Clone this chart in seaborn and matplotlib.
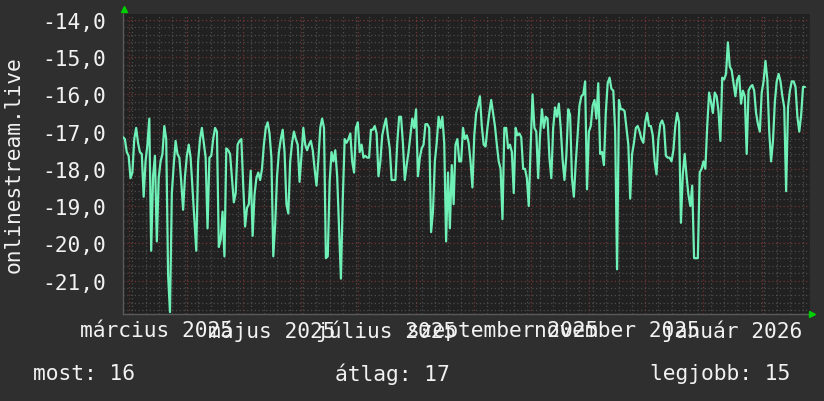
import numpy as np
import pandas as pd
import matplotlib
matplotlib.use("Agg")
import matplotlib.pyplot as plt
import matplotlib.dates as mdates
from matplotlib.ticker import MultipleLocator, FuncFormatter, NullFormatter
import seaborn as sns

# ---- data (daily values) ----
rank_p1 = [-17.15, -17.2, -17.55, -17.65, -18.25, -18.1, -17.2, -16.9, -17.3, -17.55, -17.6, -18.75, -17.8,
           -17.35, -16.65, -20.2, -18.2, -17.65, -19.95, -18.25, -17.8, -17.6, -16.85, -17.2, -20.85,
           -21.85, -18.65, -17.9, -17.25, -17.6, -17.7, -18.35, -19.1, -18.2, -17.65, -17.35, -17.7,
           -18.55, -19.35, -20.2, -17.8, -17.2, -16.9, -17.3, -17.7, -19.6, -17.7, -17.65, -17.2,
           -16.9, -17.0, -20.1]
rank_p2 = [-19.9, -19.15, -20.35, -17.45, -17.5, -17.6, -18.25, -18.9, -18.65, -17.35, -17.25, -17.2, -18.45,
           -19.55, -19.05, -18.95, -18.05, -19.8, -18.7, -18.25, -18.1, -18.3, -18.0, -17.35, -16.9,
           -16.75, -17.05, -17.7, -20.35, -19.5, -18.2, -17.55, -17.2, -16.95, -17.55, -18.95, -19.2,
           -17.8, -17.3, -17.0, -17.2, -17.35, -18.35, -17.65, -16.9, -17.35, -17.5, -17.35, -17.25,
           -17.5, -18.0, -18.45, -17.75]
rank_p3 = [-16.9, -16.65, -16.9, -20.4, -20.35, -18.35, -17.55, -17.8, -17.5, -18.2, -19.6, -20.95,
           -18.8, -17.2, -17.3, -17.2, -17.05, -17.8, -18.1, -16.9, -16.75, -17.55, -17.35, -17.7,
           -17.65, -17.7, -17.7, -16.95, -16.95, -16.85, -17.05, -18.2, -17.8, -17.1, -16.85, -16.65,
           -17.1, -17.45, -18.3, -18.3, -18.3, -17.3, -16.6, -16.6, -17.3, -18.3, -17.9, -17.55,
           -17.1, -16.65, -16.9, -16.4]
rank_p4 = [-18.2, -17.7, -17.45, -17.35, -16.8, -16.8, -16.9, -19.7, -19.15, -17.8, -17.3, -16.6,
           -16.9, -16.6, -17.3, -19.95, -18.1, -19.6, -17.9, -18.95, -17.35, -17.2, -17.8, -17.8,
           -16.9, -17.2, -17.1, -17.3, -17.8, -18.5, -17.1, -16.5, -16.3, -16.05, -16.85, -17.35,
           -17.4, -16.9, -16.5, -16.15, -16.5, -16.85, -17.35, -17.8, -18.0, -19.35, -16.9, -16.9,
           -17.45, -17.35, -17.55, -18.65]
rank_p5 = [-16.9, -17.1, -17.05, -17.15, -18.0, -18.0, -18.25, -19.0, -17.4, -16.0, -16.9, -17.0,
           -18.25, -17.1, -16.4, -16.9, -16.6, -16.65, -17.7, -18.25, -16.9, -16.35, -16.6, -16.25,
           -16.9, -17.75, -18.3, -17.65, -16.4, -16.55, -18.25, -18.75, -17.85, -17.1, -16.3, -16.05,
           -16.0, -15.65, -18.55, -17.0, -16.85, -16.3, -16.15, -16.65, -15.7, -17.6, -17.55, -17.9,
           -16.5, -15.7, -15.55, -15.85]
rank_p6 = [-15.9, -17.0, -20.7, -16.15, -16.4, -16.4, -16.45, -16.9, -17.35, -18.8, -17.6, -17.3,
           -16.9, -16.85, -17.0, -17.2, -17.3, -16.75, -16.5, -16.85, -16.85, -17.1, -17.8, -18.15,
           -17.2, -16.8, -16.7, -16.85, -17.65, -17.7, -17.7, -17.8, -17.5, -16.85, -16.5, -16.75,
           -19.45, -18.15, -17.6, -18.2, -18.7, -19.0, -18.45, -20.4, -20.4, -20.4, -18.1, -18.0,
           -17.8, -18.0, -16.85, -15.95]
rank_p7 = [-16.2, -16.5, -15.95, -16.05, -16.45, -17.25, -15.55, -15.6, -15.45, -14.6, -15.25, -15.35,
           -15.7, -16.05, -15.6, -15.5, -16.25, -15.9, -16.05, -17.6, -15.9, -15.8, -15.75, -15.9,
           -16.5, -16.8, -17.0, -15.95, -15.65, -15.1, -15.6, -17.0, -17.8, -17.25, -16.2, -15.65,
           -15.45, -15.65, -16.05, -16.35, -18.6, -16.35, -15.9, -15.65, -15.65, -15.8, -16.6, -17.0,
           -16.55, -15.8, -15.8]

start_date = "2025-02-26 00:00"
month_labels = ["március 2025", "május 2025", "július 2025",
                "szeptember 2025", "november 2025", "január 2026"]
label_dates = ["2025-03-16", "2025-05-16", "2025-07-16",
               "2025-09-16", "2025-11-16", "2026-01-16"]
y_title = "onlinestream.live"
legend_items = ["most: 16", "átlag: 17", "legjobb: 15"]

values = np.concatenate([rank_p1, rank_p2, rank_p3, rank_p4, rank_p5, rank_p6, rank_p7])
dates = pd.date_range(start_date, periods=len(values), freq="D")
df = pd.DataFrame({"date": dates, "rank": values})

# ---- style ----
BG = "#2f2f2f"
PLOT_BG = "#212121"
LINE = "#6ff0b6"
TXT = "#f2f2f2"
FS = 15.3

sns.set_style("dark")
plt.rcParams["font.family"] = ["DejaVu Sans Mono"]

W, H = 824, 402
fig = plt.figure(figsize=(W / 100, H / 100), dpi=100, facecolor=BG)
L, R, T, B = 123, 810, 15, 315
ax = fig.add_axes([L / W, 1 - B / H, (R - L) / W, (B - T) / H])
ax.set_facecolor(PLOT_BG)

sns.lineplot(data=df, x="date", y="rank", ax=ax, color=LINE, linewidth=1.6, zorder=5)

ax.set_xlim(pd.Timestamp("2025-02-26 00:00"), pd.Timestamp("2026-02-26 17:00"))
ax.set_ylim(-21.9, -13.84)

ax.yaxis.set_major_locator(MultipleLocator(1))
ax.yaxis.set_minor_locator(MultipleLocator(0.2))
ax.yaxis.set_major_formatter(FuncFormatter(lambda v, p: f"{v:.1f}".replace(".", ",")))
ax.xaxis.set_major_locator(mdates.MonthLocator(bymonthday=1))
ax.xaxis.set_minor_locator(mdates.WeekdayLocator(byweekday=mdates.MO))
ax.xaxis.set_major_formatter(NullFormatter())

ax.grid(which="minor", color="#4c4c4c", linestyle=(0, (1, 2)), linewidth=0.9)
ax.grid(which="major", color="#743434", linestyle=(0, (1, 2)), linewidth=0.9)
ax.set_axisbelow(True)

for s in ["top", "right"]:
    ax.spines[s].set_visible(False)
for s in ["left", "bottom"]:
    ax.spines[s].set_visible(True)
    ax.spines[s].set_color("#5a5a5a")
    ax.spines[s].set_linewidth(1.0)

ax.tick_params(axis="y", which="major", length=3, color="#5a5a5a", labelsize=FS,
               labelcolor=TXT, pad=9)
ax.tick_params(axis="y", which="minor", length=0)
ax.tick_params(axis="x", which="major", length=3, color="#743434", direction="inout")
ax.tick_params(axis="x", which="minor", length=0)
ax.set_xlabel("")
ax.set_ylabel("")

# month labels centered mid-month
for d, lab in zip(label_dates, month_labels):
    ax.text(mdates.date2num(pd.Timestamp(d)), -0.053, lab, transform=ax.get_xaxis_transform(),
            ha="center", va="center", fontsize=FS, color=TXT)

# y-axis title
fig.text(14 / W, 1 - 165 / H, y_title, rotation=90, ha="center", va="center",
         fontsize=FS, color=TXT)

# axis arrows
ax.plot([0.0015], [1.017], marker="^", color="#00d000", markersize=4.5,
        transform=ax.transAxes, clip_on=False, zorder=10)
ax.plot([1.003], [0.0], marker=">", color="#00d000", markersize=4.5,
        transform=ax.transAxes, clip_on=False, zorder=10)

# legend row
for xpx, txt in zip([33, 335, 650], legend_items):
    fig.text(xpx / W, 1 - 374 / H, txt, ha="left", va="center", fontsize=FS, color=TXT)

fig.savefig("out.png", dpi=100, facecolor=BG)
